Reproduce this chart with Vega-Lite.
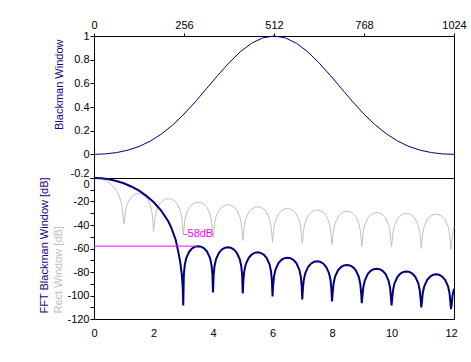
{
"$schema":"https://vega.github.io/schema/vega-lite/v6.json",
"padding":{"left":37,"top":18,"right":5,"bottom":5},
"background":"white",
"bounds":"flush",
"spacing":0,
"datasets":{
"top":[{"n":0,"w":0},{"n":32,"w":0.0035},{"n":64,"w":0.0146},{"n":96,"w":0.0349},{"n":128,"w":0.0664},{"n":160,"w":0.1116},{"n":192,"w":0.1721},{"n":224,"w":0.2485},{"n":256,"w":0.34},{"n":288,"w":0.4436},{"n":320,"w":0.5548},{"n":352,"w":0.6672},{"n":384,"w":0.7736},{"n":416,"w":0.8664},{"n":448,"w":0.9385},{"n":480,"w":0.9843},{"n":512,"w":1},{"n":544,"w":0.9843},{"n":576,"w":0.9385},{"n":608,"w":0.8664},{"n":640,"w":0.7736},{"n":672,"w":0.6672},{"n":704,"w":0.5548},{"n":736,"w":0.4436},{"n":768,"w":0.34},{"n":800,"w":0.2485},{"n":832,"w":0.1721},{"n":864,"w":0.1116},{"n":896,"w":0.0664},{"n":928,"w":0.0349},{"n":960,"w":0.0146},{"n":992,"w":0.0035},{"n":1024,"w":0}],
"blk":[{"f":0,"d":0},{"f":0.25,"d":-0.3},{"f":0.5,"d":-1.1},{"f":0.75,"d":-2.5},{"f":1,"d":-4.5},{"f":1.25,"d":-7.2},{"f":1.5,"d":-10.6},{"f":1.75,"d":-15},{"f":2,"d":-20.4},{"f":2.25,"d":-27.5},{"f":2.5,"d":-37},{"f":2.6,"d":-42.5},{"f":2.75,"d":-53},{"f":2.85,"d":-65},{"f":2.9,"d":-72},{"f":2.95,"d":-82},{"f":2.98,"d":-92},{"f":3,"d":-108.5},
{"f":3.02,"d":-82},{"f":3.05,"d":-74.1},{"f":3.1,"d":-68.2},{"f":3.2,"d":-62.6},{"f":3.3,"d":-59.8},{"f":3.4,"d":-58.4},{"f":3.5,"d":-58},{"f":3.6,"d":-58.4},{"f":3.7,"d":-59.8},{"f":3.8,"d":-62.6},{"f":3.9,"d":-68.2},{"f":3.95,"d":-74.1},{"f":3.98,"d":-82},{"f":4,"d":-97.5},
{"f":4.02,"d":-83},{"f":4.05,"d":-75.1},{"f":4.1,"d":-69.2},{"f":4.2,"d":-63.6},{"f":4.3,"d":-60.8},{"f":4.4,"d":-59.4},{"f":4.5,"d":-59},{"f":4.6,"d":-59.4},{"f":4.7,"d":-60.8},{"f":4.8,"d":-63.6},{"f":4.9,"d":-69.2},{"f":4.95,"d":-75.1},{"f":4.98,"d":-83},{"f":5,"d":-98.3},
{"f":5.02,"d":-87.3},{"f":5.05,"d":-79.4},{"f":5.1,"d":-73.5},{"f":5.2,"d":-67.9},{"f":5.3,"d":-65.1},{"f":5.4,"d":-63.7},{"f":5.5,"d":-63.3},{"f":5.6,"d":-63.7},{"f":5.7,"d":-65.1},{"f":5.8,"d":-67.9},{"f":5.9,"d":-73.5},{"f":5.95,"d":-79.4},{"f":5.98,"d":-87.3},{"f":6,"d":-100.9},
{"f":6.02,"d":-91.8},{"f":6.05,"d":-83.9},{"f":6.1,"d":-78},{"f":6.2,"d":-72.4},{"f":6.3,"d":-69.6},{"f":6.4,"d":-68.2},{"f":6.5,"d":-67.8},{"f":6.6,"d":-68.2},{"f":6.7,"d":-69.6},{"f":6.8,"d":-72.4},{"f":6.9,"d":-78},{"f":6.95,"d":-83.9},{"f":6.98,"d":-91.8},{"f":7,"d":-103.4},
{"f":7.02,"d":-94.9},{"f":7.05,"d":-87},{"f":7.1,"d":-81.1},{"f":7.2,"d":-75.5},{"f":7.3,"d":-72.7},{"f":7.4,"d":-71.3},{"f":7.5,"d":-70.9},{"f":7.6,"d":-71.3},{"f":7.7,"d":-72.7},{"f":7.8,"d":-75.5},{"f":7.9,"d":-81.1},{"f":7.95,"d":-87},{"f":7.98,"d":-94.9},{"f":8,"d":-105.1},
{"f":8.02,"d":-98},{"f":8.05,"d":-90.1},{"f":8.1,"d":-84.2},{"f":8.2,"d":-78.6},{"f":8.3,"d":-75.8},{"f":8.4,"d":-74.4},{"f":8.5,"d":-74},{"f":8.6,"d":-74.4},{"f":8.7,"d":-75.8},{"f":8.8,"d":-78.6},{"f":8.9,"d":-84.2},{"f":8.95,"d":-90.1},{"f":8.98,"d":-98},{"f":9,"d":-106.5},
{"f":9.02,"d":-101.2},{"f":9.05,"d":-93.3},{"f":9.1,"d":-87.4},{"f":9.2,"d":-81.8},{"f":9.3,"d":-79},{"f":9.4,"d":-77.6},{"f":9.5,"d":-77.2},{"f":9.6,"d":-77.6},{"f":9.7,"d":-79},{"f":9.8,"d":-81.8},{"f":9.9,"d":-87.4},{"f":9.95,"d":-93.3},{"f":9.98,"d":-101.2},{"f":10,"d":-108.5},
{"f":10.02,"d":-103.5},{"f":10.05,"d":-95.6},{"f":10.1,"d":-89.7},{"f":10.2,"d":-84.1},{"f":10.3,"d":-81.3},{"f":10.4,"d":-79.9},{"f":10.5,"d":-79.5},{"f":10.6,"d":-79.9},{"f":10.7,"d":-81.3},{"f":10.8,"d":-84.1},{"f":10.9,"d":-89.7},{"f":10.95,"d":-95.6},{"f":10.98,"d":-103.5},{"f":11,"d":-110.2},
{"f":11.02,"d":-106},{"f":11.05,"d":-98.1},{"f":11.1,"d":-92.2},{"f":11.2,"d":-86.6},{"f":11.3,"d":-83.8},{"f":11.4,"d":-82.4},{"f":11.5,"d":-82},{"f":11.6,"d":-82.4},{"f":11.7,"d":-83.8},{"f":11.8,"d":-86.6},{"f":11.9,"d":-92.2},{"f":11.95,"d":-98.1},{"f":11.98,"d":-106},{"f":12,"d":-111.6},
{"f":12.02,"d":-108},{"f":12.05,"d":-100.1},{"f":12.1,"d":-94.2}],
"rect":[{"f":0,"d":0},{"f":0.2,"d":-0.6},{"f":0.4,"d":-2.3},{"f":0.5,"d":-3.9},{"f":0.6,"d":-5.9},{"f":0.7,"d":-8.7},{"f":0.8,"d":-12.6},{"f":0.9,"d":-19.2},{"f":0.95,"d":-25.6},{"f":0.98,"d":-33.8},{"f":1,"d":-39},
{"f":1.02,"d":-37.3},{"f":1.05,"d":-29.4},{"f":1.1,"d":-23.5},{"f":1.2,"d":-17.9},{"f":1.3,"d":-15.1},{"f":1.4,"d":-13.7},{"f":1.5,"d":-13.3},{"f":1.6,"d":-13.7},{"f":1.7,"d":-15.1},{"f":1.8,"d":-17.9},{"f":1.9,"d":-23.5},{"f":1.95,"d":-29.4},{"f":1.98,"d":-37.3},{"f":2,"d":-45.4},
{"f":2.02,"d":-41.6},{"f":2.05,"d":-33.7},{"f":2.1,"d":-27.8},{"f":2.2,"d":-22.2},{"f":2.3,"d":-19.4},{"f":2.4,"d":-18},{"f":2.5,"d":-17.6},{"f":2.6,"d":-18},{"f":2.7,"d":-19.4},{"f":2.8,"d":-22.2},{"f":2.9,"d":-27.8},{"f":2.95,"d":-33.7},{"f":2.98,"d":-41.6},{"f":3,"d":-48.5},
{"f":3.02,"d":-44.5},{"f":3.05,"d":-36.6},{"f":3.1,"d":-30.7},{"f":3.2,"d":-25.1},{"f":3.3,"d":-22.3},{"f":3.4,"d":-20.9},{"f":3.5,"d":-20.5},{"f":3.6,"d":-20.9},{"f":3.7,"d":-22.3},{"f":3.8,"d":-25.1},{"f":3.9,"d":-30.7},{"f":3.95,"d":-36.6},{"f":3.98,"d":-44.5},{"f":4,"d":-50.5},
{"f":4.02,"d":-46.8},{"f":4.05,"d":-38.9},{"f":4.1,"d":-33},{"f":4.2,"d":-27.4},{"f":4.3,"d":-24.6},{"f":4.4,"d":-23.2},{"f":4.5,"d":-22.8},{"f":4.6,"d":-23.2},{"f":4.7,"d":-24.6},{"f":4.8,"d":-27.4},{"f":4.9,"d":-33},{"f":4.95,"d":-38.9},{"f":4.98,"d":-46.8},{"f":5,"d":-53.3},
{"f":5.02,"d":-48.5},{"f":5.05,"d":-40.6},{"f":5.1,"d":-34.7},{"f":5.2,"d":-29.1},{"f":5.3,"d":-26.3},{"f":5.4,"d":-24.9},{"f":5.5,"d":-24.5},{"f":5.6,"d":-24.9},{"f":5.7,"d":-26.3},{"f":5.8,"d":-29.1},{"f":5.9,"d":-34.7},{"f":5.95,"d":-40.6},{"f":5.98,"d":-48.5},{"f":6,"d":-54.8},
{"f":6.02,"d":-50},{"f":6.05,"d":-42.1},{"f":6.1,"d":-36.2},{"f":6.2,"d":-30.6},{"f":6.3,"d":-27.8},{"f":6.4,"d":-26.4},{"f":6.5,"d":-26},{"f":6.6,"d":-26.4},{"f":6.7,"d":-27.8},{"f":6.8,"d":-30.6},{"f":6.9,"d":-36.2},{"f":6.95,"d":-42.1},{"f":6.98,"d":-50},{"f":7,"d":-55.6},
{"f":7.02,"d":-51.3},{"f":7.05,"d":-43.4},{"f":7.1,"d":-37.5},{"f":7.2,"d":-31.9},{"f":7.3,"d":-29.1},{"f":7.4,"d":-27.7},{"f":7.5,"d":-27.3},{"f":7.6,"d":-27.7},{"f":7.7,"d":-29.1},{"f":7.8,"d":-31.9},{"f":7.9,"d":-37.5},{"f":7.95,"d":-43.4},{"f":7.98,"d":-51.3},{"f":8,"d":-56.7},
{"f":8.02,"d":-52.3},{"f":8.05,"d":-44.4},{"f":8.1,"d":-38.5},{"f":8.2,"d":-32.9},{"f":8.3,"d":-30.1},{"f":8.4,"d":-28.7},{"f":8.5,"d":-28.3},{"f":8.6,"d":-28.7},{"f":8.7,"d":-30.1},{"f":8.8,"d":-32.9},{"f":8.9,"d":-38.5},{"f":8.95,"d":-44.4},{"f":8.98,"d":-52.3},{"f":9,"d":-58.4},
{"f":9.02,"d":-53.5},{"f":9.05,"d":-45.6},{"f":9.1,"d":-39.7},{"f":9.2,"d":-34.1},{"f":9.3,"d":-31.3},{"f":9.4,"d":-29.9},{"f":9.5,"d":-29.5},{"f":9.6,"d":-29.9},{"f":9.7,"d":-31.3},{"f":9.8,"d":-34.1},{"f":9.9,"d":-39.7},{"f":9.95,"d":-45.6},{"f":9.98,"d":-53.5},{"f":10,"d":-58.7},
{"f":10.02,"d":-54.2},{"f":10.05,"d":-46.3},{"f":10.1,"d":-40.4},{"f":10.2,"d":-34.8},{"f":10.3,"d":-32},{"f":10.4,"d":-30.6},{"f":10.5,"d":-30.2},{"f":10.6,"d":-30.6},{"f":10.7,"d":-32},{"f":10.8,"d":-34.8},{"f":10.9,"d":-40.4},{"f":10.95,"d":-46.3},{"f":10.98,"d":-54.2},{"f":11,"d":-59.9},
{"f":11.02,"d":-54.9},{"f":11.05,"d":-47},{"f":11.1,"d":-41.1},{"f":11.2,"d":-35.5},{"f":11.3,"d":-32.7},{"f":11.4,"d":-31.3},{"f":11.5,"d":-30.9},{"f":11.6,"d":-31.3},{"f":11.7,"d":-32.7},{"f":11.8,"d":-35.5},{"f":11.9,"d":-41.1},{"f":11.95,"d":-47},{"f":11.98,"d":-54.9},{"f":12,"d":-61},
{"f":12.02,"d":-55.6},{"f":12.05,"d":-47.7},{"f":12.1,"d":-41.8}],
"marker":[{"f":0,"f2":3.45,"d":-58,"label":"-58dB","tf":3.02,"td":-47.5}]
},
"config":{
"font":"Liberation Sans",
"view":{"stroke":"black","strokeWidth":1},
"axis":{"labelFont":"Liberation Sans","labelFontSize":11,"labelColor":"black","titleFont":"Liberation Sans","titleFontSize":11,"titleFontWeight":"normal","tickColor":"black","domainColor":"black","grid":false,"labelFlush":false,"labelOverlap":false}
},
"vconcat":[
{
"width":360,"height":142,
"data":{"name":"top"},
"mark":{"type":"line","color":"#000080","strokeWidth":1},
"encoding":{
"x":{"field":"n","type":"quantitative","scale":{"domain":[0,1024],"nice":false},
"axis":{"orient":"top","values":[0,256,512,768,1024],"title":null,"tickSize":3,"labelPadding":3,"labelExpr":"datum.value + ''"}},
"y":{"field":"w","type":"quantitative","scale":{"domain":[-0.2,1],"nice":false,"zero":false},
"axis":{"values":[-0.2,0,0.2,0.4,0.6,0.8,1],"tickSize":4,"labelPadding":1,"labelExpr":"datum.value + ''",
"labelBaseline":{"condition":{"test":"datum.value < -0.1","value":"bottom"},"value":"middle"},
"title":"Blackman Window","titleColor":"#1a0080","titleX":-35,"titleY":3,"titleAlign":"right","titleBaseline":"middle","titleAngle":-90}}
}
},
{
"width":360,"height":141,
"layer":[
{
"data":{"name":"rect"},
"mark":{"type":"line","color":"#c0c0c0","strokeWidth":1},
"encoding":{
"x":{"field":"f","type":"quantitative","scale":{"domain":[0,12.1],"nice":false},
"axis":{"values":[0,1,2,3,4,5,6,7,8,9,10,11,12],"title":null,"ticks":false,"tickSize":0,"labelPadding":8,"labelExpr":"datum.value + ''"}},
"y":{"field":"d","type":"quantitative","scale":{"domain":[-120,0],"nice":false},
"axis":{"orient":"left","labels":false,"ticks":false,"domain":false,"title":"Rect Window [dB]","titleColor":"#c0c0c0","titleX":-36,"titleY":135,"titleAlign":"left","titleBaseline":"middle","titleAngle":-90}}
}
},
{
"data":{"name":"blk"},
"mark":{"type":"line","color":"#000080","strokeWidth":2},
"encoding":{
"x":{"field":"f","type":"quantitative"},
"y":{"field":"d","type":"quantitative",
"axis":{"orient":"left","values":[-120,-110,-100,-90,-80,-70,-60,-50,-40,-30,-20,-10,0],"tickSize":4,"labelPadding":1,
"labelExpr":"datum.value % 20 == 0 ? datum.value + '' : ''",
"labelBaseline":{"condition":{"test":"datum.value > -5","value":"top"},"value":"middle"},
"title":"FFT Blackman Window [dB]","titleColor":"#1a0080","titleX":-50,"titleY":135,"titleAlign":"left","titleBaseline":"middle","titleAngle":-90}}
}
},
{
"data":{"name":"marker"},
"mark":{"type":"rule","color":"#ff00ff","strokeWidth":1},
"encoding":{
"x":{"field":"f","type":"quantitative"},
"x2":{"field":"f2"},
"y":{"field":"d","type":"quantitative","axis":null}
}
},
{
"data":{"name":"marker"},
"mark":{"type":"text","color":"#ff00ff","fontSize":11,"align":"left","baseline":"middle","font":"Liberation Sans"},
"encoding":{
"x":{"field":"tf","type":"quantitative"},
"y":{"field":"td","type":"quantitative","axis":null},
"text":{"field":"label"}
}
}
],
"resolve":{"axis":{"y":"independent"}}
}
]
}
